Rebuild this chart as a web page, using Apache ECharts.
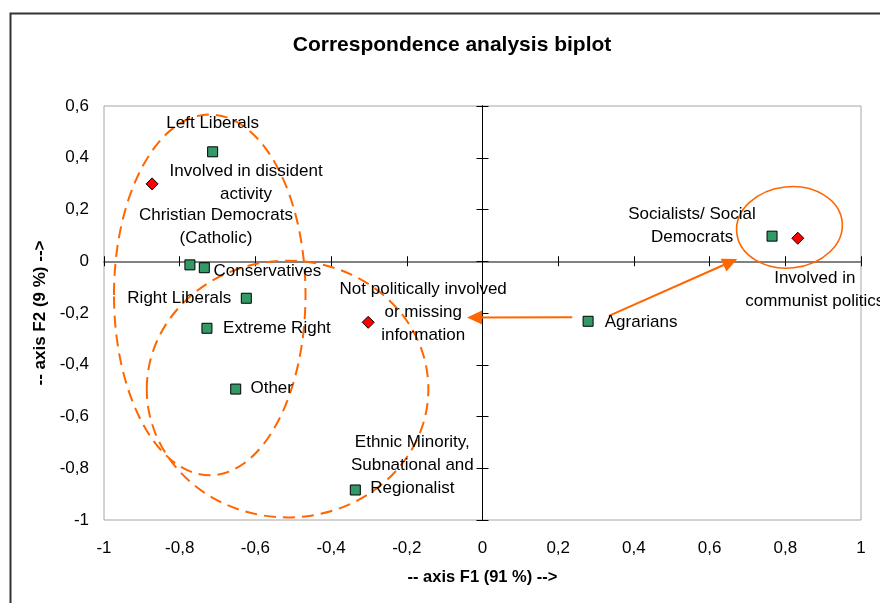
<!DOCTYPE html>
<html>
<head>
<meta charset="utf-8">
<script src="https://cdn.jsdelivr.net/npm/echarts@6/dist/echarts.min.js"></script>
<style>html,body{margin:0;padding:0;background:#fff}#c{width:880px;height:603px}</style>
</head>
<body>
<div id="c"></div>
<script>
// ---- data ----
const partyNames = ['Left Liberals', 'Christian Democrats\n(Catholic)', 'Conservatives', 'Right Liberals', 'Extreme Right', 'Other', 'Ethnic Minority,\nSubnational and\nRegionalist', 'Agrarians', 'Socialists/ Social\nDemocrats'];
const partyF1 = [-0.713, -0.773, -0.735, -0.624, -0.728, -0.652, -0.336, 0.279, 0.765];
const partyF2 = [0.423, -0.014, -0.025, -0.143, -0.259, -0.494, -0.884, -0.232, 0.097];

const involvementNames = ['Involved in dissident\nactivity', 'Not politically involved\nor missing\ninformation', 'Involved in\ncommunist politics'];
const involvementF1 = [-0.873, -0.302, 0.833];
const involvementF2 = [0.299, -0.236, 0.089];

const xTicks = { min: -1, max: 1, step: 0.2 };
const yTicks = { min: -1, max: 0.6, step: 0.2 };

// annotation shapes in data units: [centreF1, centreF2, radiusF1, radiusF2]
const groupEllipses = [
  [-0.7206, -0.130, 0.253, 0.697],
  [-0.515, -0.494, 0.372, 0.496],
  [0.811, 0.131, 0.140, 0.157]
];
// arrows: [fromF1, fromF2, toF1, toF2]
const arrows = [
  [0.237, -0.216, -0.021, -0.217],
  [0.334, -0.211, 0.655, -0.003]
];

// ---- layout / style (label offsets in px from the marker) ----
const labelOffsets = {
  'Left Liberals': [0, -28],
  'Christian Democrats\n(Catholic)': [26, -38],
  'Conservatives': [63, 4],
  'Right Liberals': [-67, 0],
  'Extreme Right': [70, 0],
  'Other': [36, -1],
  'Ethnic Minority,\nSubnational and\nRegionalist': [57, -25],
  'Agrarians': [53, 1],
  'Socialists/ Social\nDemocrats': [-80, -10],
  'Involved in dissident\nactivity': [94, -1],
  'Not politically involved\nor missing\ninformation': [55, -10],
  'Involved in\ncommunist politics': [17, 52]
};
const ellipseStyles = [
  { lineDash: [12, 7], lineWidth: 2, rotation: 0 },
  { lineDash: [12, 7], lineWidth: 2, rotation: 0 },
  { lineDash: null, lineWidth: 1.6, rotation: 6 }
];
const FONT = 'Liberation Sans, Arial, sans-serif';
const ORANGE = '#FF6600';

function pts(names, xs, ys) {
  return names.map((n, i) => ({
    name: n,
    value: [xs[i], ys[i]],
    label: { offset: labelOffsets[n] }
  }));
}
const fmt = v => String(v).replace('.', ',');

const chart = echarts.init(document.getElementById('c'), null, { renderer: 'canvas' });

const zeroX = (pos) => ({
  type: 'value', min: xTicks.min, max: xTicks.max, interval: xTicks.step, position: pos,
  axisLine: { show: true, onZero: true, onZeroAxisIndex: 0, lineStyle: { color: '#7a7a7a', width: 1.5 } },
  axisTick: { show: true, inside: false, length: 5, lineStyle: { color: '#000', width: 1 } },
  axisLabel: { show: false }, splitLine: { show: false }
});
const zeroY = (pos) => ({
  type: 'value', min: yTicks.min, max: yTicks.max, interval: yTicks.step, position: pos,
  axisLine: { show: true, onZero: true, onZeroAxisIndex: 0, lineStyle: { color: '#000', width: 1 } },
  axisTick: { show: true, inside: false, length: 6, lineStyle: { color: '#000', width: 1 } },
  axisLabel: { show: false }, splitLine: { show: false }
});

const labelBase = {
  show: true, position: 'inside', align: 'center', verticalAlign: 'middle',
  formatter: p => p.name, fontSize: 17, lineHeight: 23, color: '#000', fontFamily: FONT
};

chart.setOption({
  animation: false,
  backgroundColor: '#fff',
  title: {
    text: 'Correspondence analysis biplot', left: 447, textAlign: 'center', top: 30,
    textStyle: { fontSize: 21, fontWeight: 'bold', color: '#000', fontFamily: FONT }
  },
  graphic: [{
    type: 'rect', left: 8, top: 11, silent: true,
    shape: { x: 0, y: 0, width: 900, height: 700 },
    style: { fill: 'none', stroke: '#333', lineWidth: 2 }
  }],
  grid: { left: 104, right: 19, top: 106, bottom: 83, show: true, borderColor: '#a6a6a6', borderWidth: 1, containLabel: false },
  xAxis: [{
    type: 'value', min: xTicks.min, max: xTicks.max, interval: xTicks.step, position: 'bottom',
    axisLine: { show: false, onZero: false }, axisTick: { show: false }, splitLine: { show: false },
    axisLabel: { formatter: fmt, fontSize: 17, color: '#000', margin: 20, fontFamily: FONT },
    name: '-- axis F1 (91 %) -->', nameLocation: 'middle', nameGap: 49,
    nameTextStyle: { fontSize: 16.5, fontWeight: 'bold', color: '#000', fontFamily: FONT }
  }, zeroX('bottom'), zeroX('top')],
  yAxis: [{
    type: 'value', min: yTicks.min, max: yTicks.max, interval: yTicks.step, position: 'left',
    axisLine: { show: false, onZero: false }, axisTick: { show: false }, splitLine: { show: false },
    axisLabel: { formatter: fmt, fontSize: 17, color: '#000', margin: 15, fontFamily: FONT },
    name: '-- axis F2 (9 %) -->', nameLocation: 'middle', nameGap: 54,
    nameTextStyle: { fontSize: 17, fontWeight: 'bold', color: '#000', fontFamily: FONT }
  }, zeroY('left'), zeroY('right')],
  series: [
    {
      type: 'custom', name: 'groups', xAxisIndex: 0, yAxisIndex: 0, clip: false, silent: true, z: 1,
      data: groupEllipses,
      renderItem: (params, api) => {
        const c = api.coord([api.value(0), api.value(1)]);
        const s = api.size([api.value(2), api.value(3)]);
        const st = ellipseStyles[params.dataIndex];
        return {
          type: 'ellipse',
          shape: { cx: 0, cy: 0, rx: s[0], ry: s[1] },
          x: c[0], y: c[1], rotation: st.rotation * Math.PI / 180,
          style: { fill: 'none', stroke: ORANGE, lineWidth: st.lineWidth, lineDash: st.lineDash }
        };
      }
    },
    {
      type: 'scatter', name: 'arrows', xAxisIndex: 0, yAxisIndex: 0, data: [], z: 2,
      markLine: {
        silent: true, animation: false,
        symbol: ['none', 'triangle'], symbolSize: [14, 15],
        label: { show: false },
        lineStyle: { color: ORANGE, width: 2, type: 'solid', opacity: 1 },
        data: arrows.map(a => [{ coord: [a[0], a[1]] }, { coord: [a[2], a[3]] }])
      }
    },
    {
      type: 'scatter', name: 'parties', xAxisIndex: 0, yAxisIndex: 0, z: 5,
      symbol: 'rect', symbolSize: 10,
      itemStyle: { color: '#339966', borderColor: '#000', borderWidth: 1, opacity: 1 },
      label: labelBase,
      data: pts(partyNames, partyF1, partyF2)
    },
    {
      type: 'scatter', name: 'involvement', xAxisIndex: 0, yAxisIndex: 0, z: 5,
      symbol: 'diamond', symbolSize: 12,
      itemStyle: { color: '#FF0000', borderColor: '#000', borderWidth: 1, opacity: 1 },
      label: labelBase,
      data: pts(involvementNames, involvementF1, involvementF2)
    }
  ]
});
</script>
</body>
</html>
